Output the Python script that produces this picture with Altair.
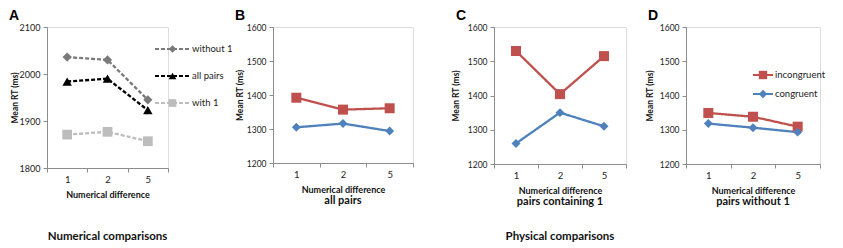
import altair as alt
import pandas as pd

FONT = "Lato"
GRAY = "#8c8c8c"

diffs = ["1", "2", "5"]

a_series = ["without 1", "all pairs", "with 1"]
a_colors = ["#7a7a7a", "#000000", "#bdbdbd"]
a_shapes = ["diamond", "triangle-up", "square"]
a_without1 = [2036, 2030, 1945]
a_allpairs = [1984, 1990, 1923]
a_with1 = [1871, 1877, 1857]
a_ticks = [1800, 1900, 2000, 2100]

cond_series = ["incongruent", "congruent"]
cond_colors = ["#c0504d", "#4f81bd"]
cond_shapes = ["square", "diamond"]
b_incong = [1392, 1357, 1361]
b_cong = [1305, 1316, 1294]
c_incong = [1530, 1404, 1515]
c_cong = [1260, 1350, 1310]
d_incong = [1349, 1338, 1309]
d_cong = [1318, 1306, 1293]
rt_ticks = [1200, 1300, 1400, 1500, 1600]

INDEP = dict(color="independent", shape="independent", size="independent",
             x="independent", y="independent")


def frame(series, lists):
    rows = []
    for s, vals in zip(series, lists):
        for d, v in zip(diffs, vals):
            rows.append({"diff": d, "series": s, "rt": v})
    return pd.DataFrame(rows)


def x_axis():
    return alt.Axis(
        title="Numerical difference", labelAngle=0, tickBand="extent", grid=False,
        tickSize=4, domainColor=GRAY, tickColor=GRAY, labelFontSize=9.5, labelFont=FONT,
        labelColor="#222", titleFontSize=9, titleFont=FONT, titleFontWeight="bold",
        titleColor="#111", labelPadding=2.5, titlePadding=6,
    )


def y_axis(ticks, ext, lfs):
    return alt.Axis(
        title="Mean RT (ms)", values=ticks, format="d", grid=False, tickSize=4,
        domainColor=GRAY, tickColor=GRAY, labelFontSize=lfs, labelFont=FONT,
        labelColor="#222", titleFontSize=8.5, titleFont=FONT, titleFontWeight="bold",
        titleColor="#111", labelPadding=3, titlePadding=0, minExtent=ext, maxExtent=ext,
    )


def panel(letter, df, series, colors, shapes, sizes, ydom, yticks, ext, lfs,
          w, h, dashed, legend_cfg, btitle):
    dash = [4, 2] if dashed else [1, 0]
    x = alt.X("diff:N", sort=diffs, scale=alt.Scale(domain=diffs, paddingInner=0, paddingOuter=0), axis=x_axis())
    y = alt.Y("rt:Q", scale=alt.Scale(domain=ydom, nice=False, zero=False), axis=y_axis(yticks, ext, lfs))
    color = alt.Color("series:N", scale=alt.Scale(domain=series, range=colors), legend=None)
    shape = alt.Shape("series:N", scale=alt.Scale(domain=series, range=shapes), legend=None)
    line = alt.Chart(df).mark_line(strokeWidth=2.3, strokeDash=dash).encode(x=x, y=y, color=color)
    pts = alt.Chart(df).mark_point(filled=True, opacity=1).encode(
        x=x, y=y, color=color, shape=shape,
        size=alt.Size("series:N", scale=alt.Scale(domain=series, range=sizes), legend=None),
    )
    lab = alt.Chart(pd.DataFrame({"t": [letter]})).mark_text(
        align="left", baseline="top", fontSize=14, fontWeight="bold", font="Liberation Sans", color="#000"
    ).encode(text="t:N", x=alt.value(-38), y=alt.value(-18))
    data_layer = alt.layer(line, pts, lab)
    if legend_cfg is None:
        ch = data_layer
    else:
        lx, line_len, y0, y1, msize = legend_cfg
        ldf = pd.DataFrame({"series": series})
        ly = alt.Y("series:N", scale=alt.Scale(type="point", domain=series, range=[y0, y1], padding=0),
                   axis=None)
        seg = alt.Chart(ldf).mark_rule(strokeWidth=2.2, strokeDash=dash).encode(
            x=alt.value(lx), x2=alt.value(lx + line_len), y=ly, color=color)
        mk = alt.Chart(ldf).mark_point(filled=True, opacity=1, size=msize).encode(
            x=alt.value(lx + line_len / 2), y=ly, color=color, shape=shape)
        tx = alt.Chart(ldf).mark_text(align="left", baseline="middle", font=FONT, fontSize=9.5,
                                      color="#222").encode(
            x=alt.value(lx + line_len + 2), y=ly, text="series:N")
        legend_layer = alt.layer(seg, mk, tx)
        ch = alt.layer(data_layer, legend_layer).resolve_scale(y="independent")
    return ch.properties(width=w, height=h, title=btitle)


dfA = frame(a_series, [a_without1, a_allpairs, a_with1])
dfB = frame(cond_series, [b_incong, b_cong])
dfC = frame(cond_series, [c_incong, c_cong])
dfD = frame(cond_series, [d_incong, d_cong])

bt = dict(orient="bottom", anchor="middle", frame="group", font=FONT, fontWeight="bold", color="#111")

A = panel("A", dfA, a_series, a_colors, a_shapes, [85, 95, 90], [1800, 2100], a_ticks, 28, 9,
          121, 141, True, (108, 35, 22, 76, 60),
          alt.TitleParams(text="Numerical comparisons", fontSize=11.5, offset=32, **bt))
B = panel("B", dfB, cond_series, cond_colors, cond_shapes, [100, 80], [1200, 1600], rt_ticks, 29, 8.5,
          140, 136, False, None,
          alt.TitleParams(text="all pairs", fontSize=11, offset=1, **bt))
C = panel("C", dfC, cond_series, cond_colors, cond_shapes, [100, 80], [1200, 1600], rt_ticks, 34, 8.5,
          132, 137, False, None,
          alt.TitleParams(text="pairs containing  1", subtitle="Physical comparisons", fontSize=11,
                          offset=1, subtitleFont=FONT, subtitleFontSize=11.5, subtitleFontWeight="bold",
                          subtitleColor="#111", subtitlePadding=24, **bt))
D = panel("D", dfD, cond_series, cond_colors, cond_shapes, [100, 80], [1200, 1600], rt_ticks, 32, 8.5,
          134, 137, False, (67, 20, 48, 67, 70),
          alt.TitleParams(text="pairs without 1", fontSize=11, offset=1, **bt))

AB = alt.hconcat(A, B, spacing=1).resolve_scale(**INDEP)
ABC = alt.hconcat(AB, C, spacing=36).resolve_scale(**INDEP)
chart = alt.hconcat(ABC, D, spacing=17).resolve_scale(**INDEP).properties(
    padding={"left": 0, "top": 0, "right": 0, "bottom": 0}
).configure_view(stroke=None).configure(background="white")

chart.save("out.html", embed_options={"renderer": "svg", "actions": False})
